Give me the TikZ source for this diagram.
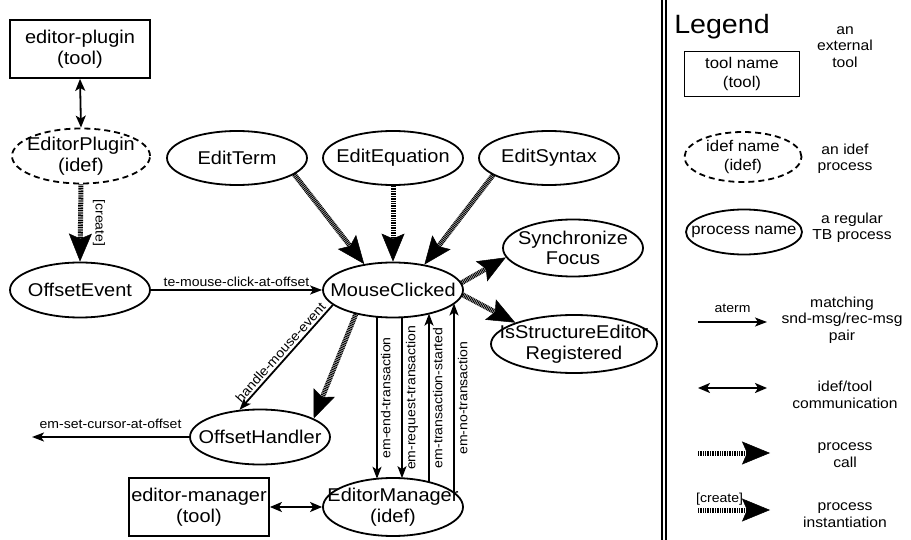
\documentclass[tikz,border=0pt]{standalone}
\usepackage{fontspec}
\setmainfont{Liberation Sans}[FakeStretch=1.08]
\usetikzlibrary{shapes.geometric,arrows.meta,calc}
\newcommand\ndfont{\fontsize{18.5}{20.5}\selectfont}
\newcommand\elfont{\fontsize{13}{15}\selectfont}
\newcommand\lgfont{\fontsize{15.5}{19}\selectfont}
\newcommand\lgdesc{\fontsize{14.5}{16.5}\selectfont}
\newcommand\smfont{\fontsize{13}{14}\selectfont}
\newcommand\ttlfont{\fontsize{26.5}{30}\selectfont}
\begin{document}
\begin{tikzpicture}[x=1pt,y=-1pt,
  proc/.style={ellipse, draw, line width=1.8pt, minimum width=140pt, minimum height=55pt,
     inner xsep=-25pt, inner ysep=-25pt, align=center, font=\ndfont},
  idefproc/.style={proc, dash pattern=on 6pt off 4pt},
  toolbox/.style={rectangle, draw, line width=1.8pt, minimum width=140pt, minimum height=58pt,
     inner sep=2pt, align=center, font=\ndfont},
  msg/.style={line width=1.8pt, -{Stealth[length=12pt,width=9pt,inset=3pt]}},
  comm/.style={line width=1.8pt, {Stealth[length=12pt,width=10pt,inset=3pt]}-{Stealth[length=12pt,width=10pt,inset=3pt]}},
  call/.style={line width=5pt, line cap=butt, dash pattern=on 1pt off 0.7pt,
     -{Stealth[length=28pt,width=23pt,inset=5pt,line width=0.5pt]}},
  elabel/.style={font=\elfont, inner sep=2pt},
  vlabel/.style={font=\elfont, rotate=90, anchor=north, inner sep=3pt},
  lgdescr/.style={font=\lgdesc, align=center},
]
\useasboundingbox (0,0) rectangle (911,540);

% nodes
\node[toolbox] (ept) at (80,49) {editor-plugin\\(tool)};
\node[idefproc, minimum width=138pt] (ep) at (81,156) {EditorPlugin\\(idef)};
\node[proc] (oe) at (80,290) {OffsetEvent};
\node[proc, minimum height=54pt] (et) at (237,158) {EditTerm};
\node[proc, minimum height=54pt] (eq) at (393,158) {EditEquation};
\node[proc, minimum height=54pt] (es) at (549,158) {EditSyntax};
\node[proc] (mc) at (393,290) {MouseClicked};
\node[proc, minimum height=57pt] (sf) at (573,248) {Synchronize\\Focus};
\node[proc, minimum width=166pt, minimum height=58pt] (is) at (574,344) {IsStructureEditor\\Registered};
\node[proc] (oh) at (260,437) {OffsetHandler};
\node[toolbox] (emt) at (199,507) {editor-manager\\(tool)};
\node[proc, minimum height=58pt] (em) at (393,507) {EditorManager\\(idef)};
\coordinate (cursorend) at (32,437);

% connectors
\draw[comm] (ept.south) -- (ep.north);
\draw[call] (ep.south) -- node[font=\smfont, rotate=-90, anchor=south, inner sep=0pt, inner ysep=10pt] {[create]} (oe.north);
\draw[msg] (oe.east) -- node[elabel, above] {te-mouse-click-at-offset} (mc.west);
\draw[call] (et.-16) -- (mc.138);
\draw[call] (eq.south) -- (mc.north);
\draw[call] (es.-163) -- (mc.39.5);
\draw[call] (mc.6) -- (sf.188.6);
\draw[call] (mc.-4) -- (is.160);
\draw[call] (mc.213) -- (oh.19);
\draw[msg] (mc.194) -- node[elabel, sloped, above] {handle-mouse-event} (oh.127);
\draw[msg] (oh.west) -- node[elabel, above, inner sep=7pt] {em-set-cursor-at-offset} (cursorend);
\draw[msg] ($(mc.center)+(-16,26.8)$) -- node[vlabel] {em-end-transaction} ($(em.center)+(-16,-28.2)$);
\draw[msg] ($(mc.center)+(9,27.3)$) -- node[vlabel] {em-request-transaction} ($(em.center)+(9,-28.8)$);
\draw[msg] ($(em.center)+(36,-24.9)$) -- node[vlabel] {em-transaction-started} ($(mc.center)+(36,23.6)$);
\draw[msg] ($(em.center)+(61,-14.2)$) -- node[vlabel] {em-no-transaction} ($(mc.center)+(61,13.5)$);
\draw[comm] (emt.east) -- (em.west);

% legend
\draw[line width=1.5pt] (662,0) -- (662,540);
\draw[line width=1.5pt] (666,0) -- (666,540);
\node[font=\ttlfont] (lgtitle) at (722,27) {Legend};
\node[toolbox, minimum width=115pt, minimum height=45pt, font=\lgfont] (lgtool) at (742,74) {tool name\\(tool)};
\node[lgdescr] (lgtoold) at (845,47) {an\\external\\tool};
\node[idefproc, minimum width=117pt, minimum height=50pt, font=\lgfont] (lgidef) at (743,157) {idef name\\(idef)};
\node[lgdescr] (lgidefd) at (845,159) {an idef\\process};
\node[proc, minimum width=116pt, minimum height=45pt, font=\lgfont] (lgproc) at (744,232) {process name};
\node[lgdescr] (lgprocd) at (852,228) {a regular\\TB process};
\coordinate (l1s) at (698,322); \coordinate (l1e) at (767,322);
\draw[msg] (l1s) -- node[font=\smfont, above, inner sep=8pt] {aterm} (l1e);
\node[lgdescr] (l1d) at (842,320) {matching\\snd-msg/rec-msg\\pair};
\coordinate (l2s) at (698,388); \coordinate (l2e) at (767,388);
\draw[comm] (l2s) -- (l2e);
\node[lgdescr] (l2d) at (845,395) {idef/tool\\communication};
\coordinate (l3s) at (698,453); \coordinate (l3e) at (770,453);
\draw[call] (l3s) -- (l3e);
\node[lgdescr] (l3d) at (845,455) {process\\call};
\coordinate (l4s) at (698,510); \coordinate (l4e) at (770,510);
\draw[call] (l4s) -- node[font=\smfont, above, pos=0.3, inner sep=2pt] {[create]} (l4e);
\node[lgdescr] (l4d) at (845,515) {process\\instantiation};
\end{tikzpicture}
\end{document}
